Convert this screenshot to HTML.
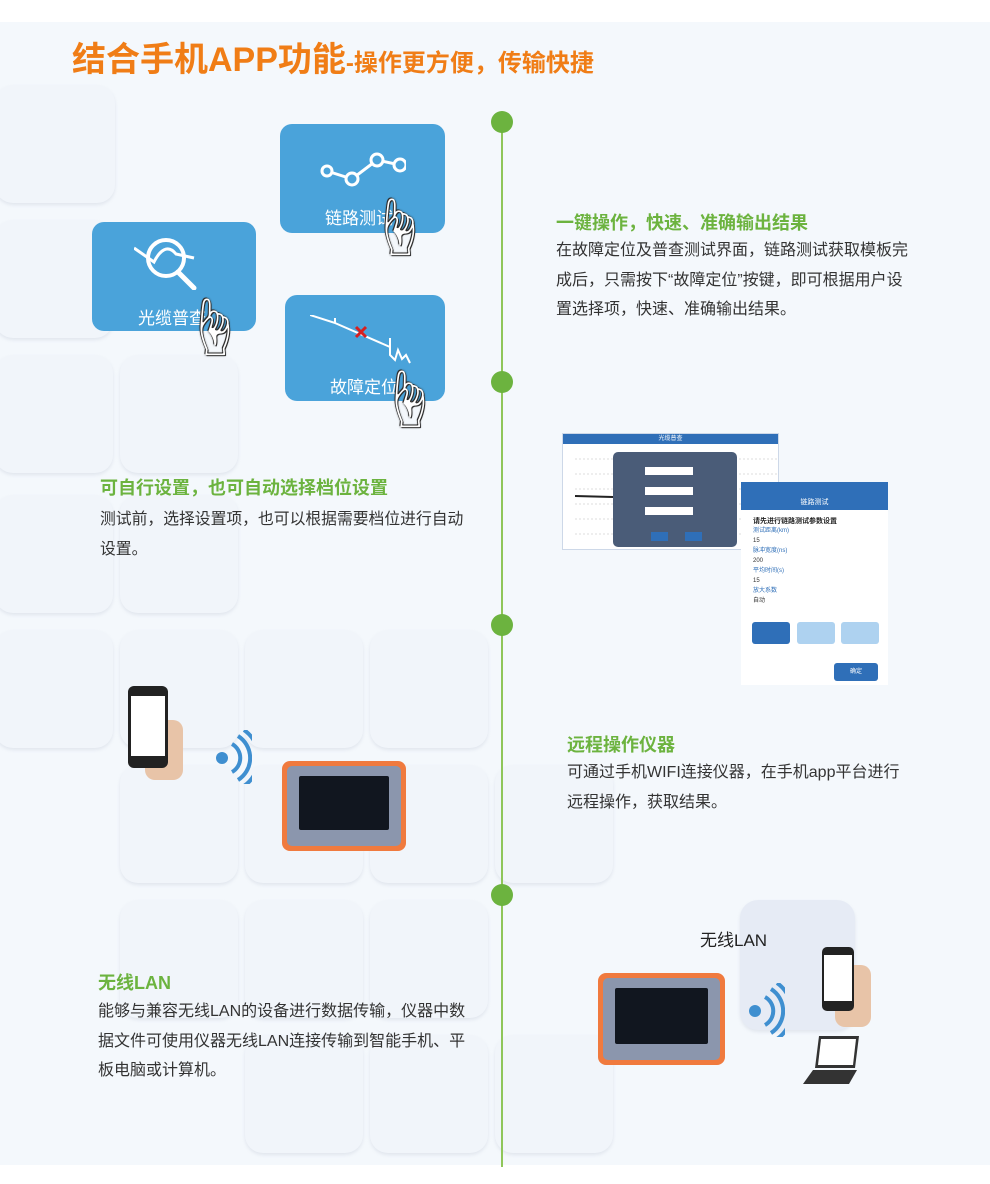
<!DOCTYPE html>
<html><head><meta charset="utf-8">
<style>
*{margin:0;padding:0;box-sizing:border-box}
body{width:990px;height:1184px;position:relative;overflow:hidden;background:#f4f8fc;font-family:"Liberation Sans","Noto Sans CJK SC",sans-serif;color:#333}
.a{position:absolute}
.sq{position:absolute;width:118px;height:118px;border-radius:18px;background:#f1f5fa;box-shadow:0 2px 3px rgba(170,180,200,.25)}
.card{position:absolute;background:#4aa3da;border-radius:12px;color:#fff;font-size:17px;text-align:center}
.dot{position:absolute;left:491px;width:22px;height:22px;border-radius:50%;background:#6cb33f}
.h{position:absolute;color:#6cb33f;font-weight:bold;font-size:18px}
.p{position:absolute;font-size:16px;line-height:29.5px;color:#333}
.hand{position:absolute;font-size:60px;line-height:60px;color:#fff;text-shadow:0 0 2px #222,1px 1px 0 #333,-1px -1px 0 #333}
</style></head><body>
<div class="a" style="left:0;top:0;width:990px;height:22px;background:#fff"></div>
<div class="a" style="left:0;top:1165px;width:990px;height:19px;background:#fff"></div>
<div class="sq" style="left:-5px;top:85px;width:120px"></div>
<div class="sq" style="left:-5px;top:220px"></div>
<div class="sq" style="left:-5px;top:355px"></div>
<div class="sq" style="left:120px;top:355px"></div>
<div class="sq" style="left:-5px;top:495px"></div>
<div class="sq" style="left:120px;top:495px"></div>
<div class="sq" style="left:-5px;top:630px"></div>
<div class="sq" style="left:120px;top:630px"></div>
<div class="sq" style="left:245px;top:630px"></div>
<div class="sq" style="left:370px;top:630px"></div>
<div class="sq" style="left:120px;top:765px"></div>
<div class="sq" style="left:245px;top:765px"></div>
<div class="sq" style="left:370px;top:765px"></div>
<div class="sq" style="left:495px;top:765px"></div>
<div class="sq" style="left:120px;top:900px"></div>
<div class="sq" style="left:245px;top:900px"></div>
<div class="sq" style="left:370px;top:900px"></div>
<div class="sq" style="left:245px;top:1035px"></div>
<div class="sq" style="left:370px;top:1035px"></div>
<div class="sq" style="left:495px;top:1035px"></div>
<div class="sq" style="left:740px;top:900px;width:115px;height:130px;background:#e6ebf5"></div>

<div class="a" style="left:72px;top:32px;color:#f07d16;font-weight:bold;white-space:nowrap"><span style="font-size:34px">结合手机APP功能</span><span style="font-size:24px">-操作更方便，传输快捷</span></div>

<div class="a" style="left:501px;top:122px;width:2px;height:1045px;background:#8fc65a"></div>
<div class="dot" style="top:111px"></div>
<div class="dot" style="top:371px"></div>
<div class="dot" style="top:614px"></div>
<div class="dot" style="top:884px"></div>

<div class="card" style="left:280px;top:124px;width:165px;height:109px">
<svg class="a" style="left:40px;top:24px" width="86" height="40"><polyline points="7,23 32,31 57,12 80,17" fill="none" stroke="#fff" stroke-width="3"/><g fill="#4aa3da" stroke="#fff" stroke-width="3"><circle cx="7" cy="23" r="5"/><circle cx="32" cy="31" r="6"/><circle cx="57" cy="12" r="6"/><circle cx="80" cy="17" r="6"/></g></svg>
<div class="a" style="left:45px;top:80px">链路测试</div></div>
<div class="card" style="left:92px;top:222px;width:164px;height:109px">
<svg class="a" style="left:42px;top:12px" width="70" height="56"><circle cx="32" cy="24" r="18" fill="none" stroke="#fff" stroke-width="4"/><line x1="44" y1="38" x2="60" y2="54" stroke="#fff" stroke-width="5" stroke-linecap="round"/><path d="M0,14 L20,28 C26,16 34,10 42,20 L60,24" fill="none" stroke="#fff" stroke-width="3"/></svg>
<div class="a" style="left:46px;top:82px">光缆普查</div></div>
<div class="card" style="left:285px;top:295px;width:160px;height:106px">
<svg class="a" style="left:25px;top:20px" width="110" height="55"><polyline points="0,0 25,8 25,3 25,8 80,32 80,23 80,40 85,45 88,35 92,44 96,40 100,48" fill="none" stroke="#fff" stroke-width="2"/><path d="M46,12 L56,22 M56,12 L46,22" stroke="#d62020" stroke-width="3"/></svg>
<div class="a" style="left:45px;top:78px">故障定位</div></div>
<div class="hand" style="left:368px;top:200px">☝</div>
<div class="hand" style="left:183px;top:300px">☝</div>
<div class="hand" style="left:378px;top:372px">☝</div>

<div class="h" style="left:556px;top:209px">一键操作，快速、准确输出结果</div>
<div class="p" style="left:556px;top:236px">在故障定位及普查测试界面，链路测试获取模板完<br>成后，只需按下“故障定位”按键，即可根据用户设<br>置选择项，快速、准确输出结果。</div>

<div class="h" style="left:100px;top:474px">可自行设置，也可自动选择档位设置</div>
<div class="p" style="left:100px;top:505px;font-size:15.8px">测试前，选择设置项，也可以根据需要档位进行自动<br>设置。</div>

<div class="h" style="left:567px;top:731px">远程操作仪器</div>
<div class="p" style="left:567px;top:758px">可通过手机WIFI连接仪器，在手机app平台进行<br>远程操作，获取结果。</div>

<div class="h" style="left:98px;top:969px">无线LAN</div>
<div class="p" style="left:98px;top:997px">能够与兼容无线LAN的设备进行数据传输，仪器中数<br>据文件可使用仪器无线LAN连接传输到智能手机、平<br>板电脑或计算机。</div>

<div class="a" style="left:562px;top:433px;width:217px;height:117px;background:#fff;border:1px solid #cdd8e8">
<div style="height:10px;background:#2f6fb8;color:#fff;font-size:6px;text-align:center;line-height:10px">光缆普查</div>
<svg class="a" style="left:0;top:10px" width="215" height="105"><g stroke="#bbb" stroke-dasharray="2,2" stroke-width=".5"><line x1="12" y1="15" x2="215" y2="15"/><line x1="12" y1="30" x2="215" y2="30"/><line x1="12" y1="45" x2="215" y2="45"/><line x1="12" y1="60" x2="215" y2="60"/><line x1="12" y1="75" x2="215" y2="75"/><line x1="12" y1="90" x2="215" y2="90"/></g><line x1="12" y1="52" x2="50" y2="53" stroke="#222" stroke-width="2"/></svg>
<div class="a" style="left:50px;top:18px;width:124px;height:95px;background:#4a5c78;border-radius:5px"></div>
<div class="a" style="left:82px;top:33px;width:48px;height:8px;background:#fff"></div>
<div class="a" style="left:82px;top:53px;width:48px;height:8px;background:#fff"></div>
<div class="a" style="left:82px;top:73px;width:48px;height:8px;background:#fff"></div>
<div class="a" style="left:88px;top:98px;width:17px;height:9px;background:#2f6fb8"></div>
<div class="a" style="left:122px;top:98px;width:17px;height:9px;background:#2f6fb8"></div>
</div>
<div class="a" style="left:741px;top:482px;width:147px;height:203px;background:#fff;font-size:6px">
<div style="height:28px;background:#2f6fb8;color:#fff;text-align:center;padding-top:15px;font-size:7px">链路测试</div>
<div style="font-weight:bold;padding:6px 0 0 12px;font-size:7px;color:#222">请先进行链路测试参数设置</div>
<div style="padding:0 12px;color:#2f6fb8;line-height:10px">测试距离(km)<br><span style="color:#333">15</span><br>脉冲宽度(ns)<br><span style="color:#333">200</span><br>平均时间(s)<br><span style="color:#333">15</span><br>放大系数<br><span style="color:#333">自动</span></div>
<div class="a" style="left:11px;top:140px;width:38px;height:22px;background:#2f6fb8;border-radius:3px"></div>
<div class="a" style="left:56px;top:140px;width:38px;height:22px;background:#aed2f0;border-radius:3px"></div>
<div class="a" style="left:100px;top:140px;width:38px;height:22px;background:#aed2f0;border-radius:3px"></div>
<div class="a" style="left:93px;top:181px;width:44px;height:18px;background:#2f6fb8;border-radius:3px;color:#fff;text-align:center;line-height:18px">确定</div>
</div>

<div class="a" style="left:145px;top:720px;width:38px;height:60px;background:#e8c4a8;border-radius:10px"></div>
<div class="a" style="left:128px;top:686px;width:40px;height:82px;background:#222;border-radius:6px"><div style="margin:10px 3px;height:60px;background:#fff"></div></div>
<svg class="a" style="left:212px;top:730px" width="40" height="54"><circle cx="10" cy="28" r="6" fill="#3f8fd0"/><path d="M20,14 A16,16 0 0 1 20,42 M26,6 A26,26 0 0 1 26,50 M32,0 A34,34 0 0 1 32,56" fill="none" stroke="#3f8fd0" stroke-width="4"/></svg>
<div class="a" style="left:282px;top:761px;width:124px;height:90px;background:#f07a3e;border-radius:8px"><div style="margin:5px;height:80px;background:#8b96ad;border-radius:5px;padding:10px 12px"><div style="height:54px;background:#11161f;border-radius:2px"></div></div></div>

<div class="a" style="left:700px;top:926px;font-size:17px;color:#222">无线LAN</div>
<div class="a" style="left:598px;top:973px;width:127px;height:92px;background:#f07a3e;border-radius:8px"><div style="margin:5px;height:82px;background:#8b96ad;border-radius:5px;padding:10px 12px"><div style="height:56px;background:#11161f;border-radius:2px"></div></div></div>
<svg class="a" style="left:745px;top:983px" width="40" height="54"><circle cx="10" cy="28" r="6" fill="#3f8fd0"/><path d="M20,14 A16,16 0 0 1 20,42 M26,6 A26,26 0 0 1 26,50 M32,0 A34,34 0 0 1 32,56" fill="none" stroke="#3f8fd0" stroke-width="4"/></svg>
<div class="a" style="left:835px;top:965px;width:36px;height:62px;background:#e8c4a8;border-radius:10px"></div>
<div class="a" style="left:822px;top:947px;width:32px;height:64px;background:#222;border-radius:5px"><div style="margin:8px 2px;height:46px;background:#fff"></div></div>
<svg class="a" style="left:803px;top:1034px" width="58" height="52"><polygon points="16,2 56,2 52,34 12,34" fill="#333"/><polygon points="18,5 53,5 50,31 15,31" fill="#fff"/><polygon points="10,36 54,36 46,50 0,50" fill="#333"/></svg>
</body></html>
